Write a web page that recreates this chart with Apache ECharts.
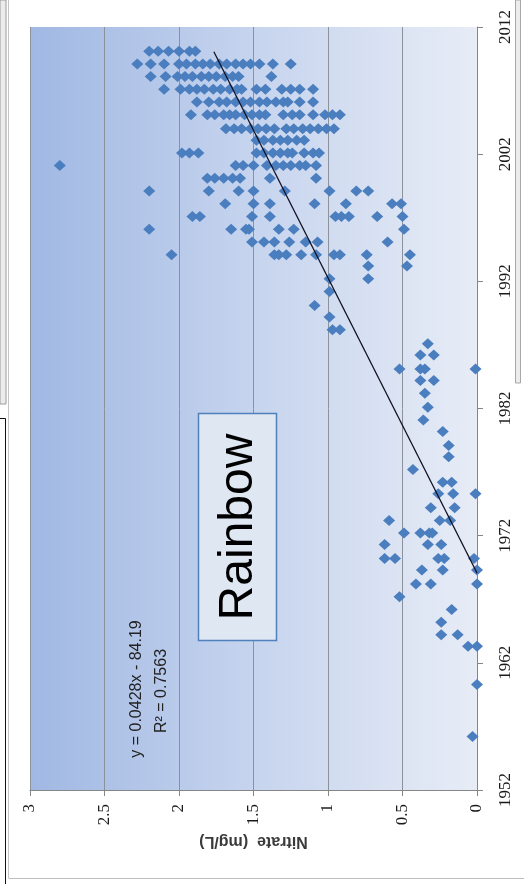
<!DOCTYPE html>
<html>
<head>
<meta charset="utf-8">
<script src="https://cdn.jsdelivr.net/npm/echarts@6/dist/echarts.min.js"></script>
<style>
html,body{margin:0;padding:0;background:#fff;}
#chart{width:524px;height:884px;}
</style>
</head>
<body>
<div id="chart"></div>
<script>
// Sampling years (each row of diamonds) and nitrate values (mg/L)
const rowYears = [
  2010.1, 2009.1, 2008.1, 2007.1, 2006.1, 2005.1, 2004.0, 2003.1, 2002.1, 2001.1,
  2000.1, 1999.1, 1998.1, 1997.1, 1996.1, 1995.1, 1994.1, 1993.2, 1992.2, 1991.2,
  1990.1, 1989.2, 1988.2, 1987.1, 1986.2, 1985.1, 1984.2, 1983.2, 1982.1, 1981.1,
  1980.2, 1979.1, 1978.2, 1977.2, 1976.2, 1975.3, 1974.2, 1973.2, 1972.2, 1971.3,
  1970.2, 1969.3, 1968.2, 1967.2, 1966.2, 1965.2, 1964.2, 1963.3, 1960.3, 1956.2
];
const rowNitrate = [
  [2.20, 2.14, 2.07, 2.00, 1.93, 1.89],
  [2.28, 2.19, 2.10, 2.00, 1.95, 1.89, 1.84, 1.79, 1.73, 1.68, 1.62, 1.57, 1.52, 1.46, 1.37, 1.25],
  [2.19, 2.09, 2.01, 1.96, 1.91, 1.85, 1.80, 1.75, 1.69, 1.64, 1.60, 1.38],
  [2.10, 1.99, 1.93, 1.88, 1.83, 1.77, 1.72, 1.66, 1.61, 1.58, 1.48, 1.42, 1.31, 1.25, 1.19, 1.10],
  [1.88, 1.80, 1.73, 1.68, 1.62, 1.57, 1.52, 1.46, 1.41, 1.35, 1.30, 1.27, 1.19, 1.10],
  [1.92, 1.81, 1.76, 1.70, 1.66, 1.62, 1.56, 1.51, 1.46, 1.42, 1.30, 1.24, 1.19, 1.10, 1.02, 0.97, 0.92],
  [1.685, 1.63, 1.58, 1.52, 1.47, 1.415, 1.36, 1.28, 1.23, 1.17, 1.12, 1.065, 1.01, 0.96],
  [1.48, 1.43, 1.37, 1.32, 1.27, 1.21, 1.16],
  [1.98, 1.93, 1.87, 1.48, 1.43, 1.37, 1.32, 1.27, 1.24, 1.16, 1.10, 1.06],
  [2.80, 1.62, 1.57, 1.50, 1.41, 1.35, 1.30, 1.25, 1.19, 1.15, 1.08],
  [1.81, 1.76, 1.70, 1.64, 1.59, 1.39, 1.08],
  [2.20, 1.80, 1.60, 1.50, 1.29, 0.99, 0.81, 0.73],
  [1.69, 1.50, 1.39, 1.09, 0.88, 0.57, 0.51],
  [1.91, 1.86, 1.51, 1.39, 0.95, 0.91, 0.86, 0.67, 0.50],
  [2.20, 1.65, 1.55, 1.53, 1.33, 1.23, 0.49],
  [1.51, 1.43, 1.36, 1.26, 1.15, 1.07, 0.60],
  [2.05, 1.36, 1.33, 1.28, 1.18, 1.08, 0.96, 0.92, 0.74, 0.45],
  [0.73, 0.47],
  [0.99, 0.73],
  [0.99],
  [1.09],
  [0.99],
  [0.97, 0.92],
  [0.33],
  [0.38, 0.29],
  [0.52, 0.38, 0.35, 0.01],
  [0.38, 0.29],
  [0.35],
  [0.33],
  [0.36],
  [0.23],
  [0.19],
  [0.19],
  [0.43],
  [0.23, 0.17],
  [0.26, 0.16, 0.01],
  [0.31, 0.15],
  [0.59, 0.25, 0.18],
  [0.49, 0.38, 0.32, 0.30],
  [0.62, 0.33, 0.24],
  [0.62, 0.55, 0.26, 0.22, 0.02],
  [0.37, 0.23, 0.00],
  [0.41, 0.31, 0.00],
  [0.52],
  [0.17],
  [0.24],
  [0.24, 0.13],
  [0.06, 0.00],
  [0.00],
  [0.03]
];
// Linear trend line end points as drawn (year, nitrate)
const trendYears = [1969.06, 2010.05];
const trendNitrate = [0.0, 1.766];
// Axis ticks
const nitrateTicks = [0, 0.5, 1, 1.5, 2, 2.5, 3];
const yearTicks = [1952, 1962, 1972, 1982, 1992, 2002, 2012];
const equationText = 'y = 0.0428x - 84.19';
const r2Text = 'R\u00B2 = 0.7563';
const siteName = 'Rainbow';

const scatterData = [];
rowYears.forEach((yr, i) => {
  rowNitrate[i].forEach(v => scatterData.push([v, yr]));
});
const trendData = trendYears.map((yr, i) => [trendNitrate[i], yr]);

const chart = echarts.init(document.getElementById('chart'), null, {renderer: 'canvas'});
const serif = '"Liberation Serif", "DejaVu Serif", serif';
const sans = '"Liberation Sans", Arial, sans-serif';

chart.setOption({
  animation: false,
  backgroundColor: '#ffffff',
  grid: {
    left: 30, right: 47, top: 27, bottom: 94,
    show: true,
    borderWidth: 0,
    backgroundColor: new echarts.graphic.LinearGradient(0, 0, 1, 0, [
      {offset: 0, color: '#a0b8e3'},
      {offset: 0.5, color: '#c6d4ee'},
      {offset: 1, color: '#e7ecf6'}
    ]),
    outerBoundsMode: 'none'
  },
  xAxis: {
    type: 'value',
    min: nitrateTicks[0],
    max: nitrateTicks[nitrateTicks.length - 1],
    interval: nitrateTicks[1] - nitrateTicks[0],
    inverse: true,
    position: 'bottom',
    axisLine: {show: true, lineStyle: {color: '#868686', width: 1}},
    axisTick: {show: true, length: 6, lineStyle: {color: '#868686'}},
    splitLine: {show: true, lineStyle: {color: '#8c929c', width: 1}},
    axisLabel: {rotate: 90, margin: 14, fontFamily: serif, fontSize: 17, color: '#1a1a1a',
                formatter: v => String(v)},
    name: 'Nitrate  (mg/L)',
    nameLocation: 'middle',
    nameRotate: 180,
    nameGap: 38,
    nameTextStyle: {fontFamily: sans, fontSize: 16, fontWeight: 'bold', color: '#3a3a3a'}
  },
  yAxis: {
    type: 'value',
    min: yearTicks[0],
    max: yearTicks[yearTicks.length - 1],
    interval: yearTicks[1] - yearTicks[0],
    position: 'right',
    axisLine: {show: true, lineStyle: {color: '#868686', width: 1}},
    axisTick: {show: true, length: 6, lineStyle: {color: '#868686'}},
    splitLine: {show: false},
    axisLabel: {rotate: 90, margin: 20, fontFamily: serif, fontSize: 17, color: '#1a1a1a',
                align: 'center', verticalAlign: 'top', formatter: v => String(v)}
  },
  series: [
    {
      type: 'scatter',
      data: scatterData,
      symbol: 'diamond',
      symbolSize: [12, 11],
      itemStyle: {color: '#4a7ebf', opacity: 1},
      z: 3
    },
    {
      type: 'line',
      data: trendData,
      showSymbol: false,
      symbol: 'none',
      lineStyle: {color: '#111122', width: 1.3},
      z: 4
    }
  ],
  graphic: [
    // window / frame decorations
    {type: 'rect', shape: {x: 0, y: 0, width: 6, height: 404}, style: {fill: '#ececec', stroke: '#9c9c9c', lineWidth: 1}},
    {type: 'rect', shape: {x: 515.5, y: 0, width: 5, height: 383}, style: {fill: '#ececec', stroke: '#a8a8a8', lineWidth: 1}},
    {type: 'line', shape: {x1: 8.5, y1: 0, x2: 8.5, y2: 878}, style: {stroke: '#c4c4c4', lineWidth: 1}},
    {type: 'line', shape: {x1: 8.5, y1: 878.5, x2: 524, y2: 878.5}, style: {stroke: '#bdbdbd', lineWidth: 1}},
    {type: 'polyline', shape: {points: [[0, 418.5], [5.5, 418.5], [5.5, 884]]}, style: {stroke: '#111', lineWidth: 1, fill: null}},
    // trend equation
    {type: 'text', x: 137, y: 689, rotation: Math.PI / 2, z: 10,
     style: {text: equationText, font: '16px ' + sans, fill: '#222', align: 'center', verticalAlign: 'middle'}},
    {type: 'text', x: 162, y: 691, rotation: Math.PI / 2, z: 10,
     style: {text: r2Text, font: '16px ' + sans, fill: '#222', align: 'center', verticalAlign: 'middle'}},
    // site label box
    {type: 'rect', z: 10, shape: {x: 198.5, y: 413.5, width: 78, height: 227},
     style: {fill: '#dfe7f3', stroke: '#4f81bd', lineWidth: 1.5}},
    {type: 'text', x: 239, y: 527, rotation: Math.PI / 2, z: 11,
     style: {text: siteName, font: '48px ' + sans, fill: '#000', align: 'center', verticalAlign: 'middle'}}
  ]
});
</script>
</body>
</html>
